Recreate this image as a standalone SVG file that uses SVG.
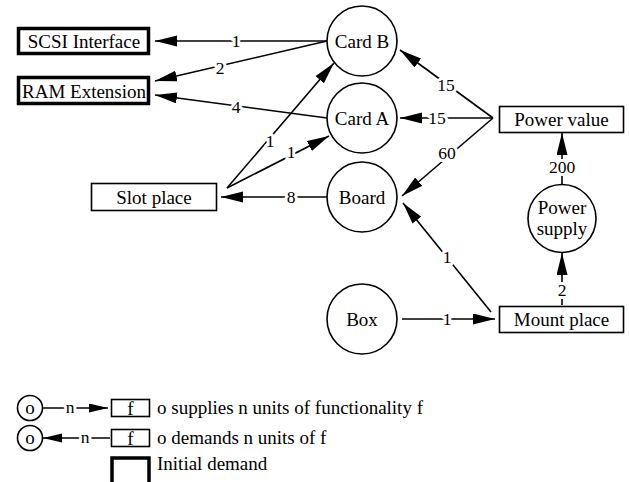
<svg xmlns="http://www.w3.org/2000/svg" width="629" height="482" viewBox="0 0 629 482" font-family="'Liberation Serif', 'DejaVu Serif', 'Times New Roman', serif">
  <style>
    .node { font-size: 19px; text-anchor: middle; }
    .lbl { font-size: 17.5px; text-anchor: middle; stroke: #fff; stroke-width: 6px; paint-order: stroke; stroke-linejoin: round; }
    .leg { font-size: 19px; }
    .circ { fill: #fff; stroke: #000; stroke-width: 1.6; }
    .box { fill: #fff; stroke: #000; stroke-width: 1.6; }
    .init { fill: #fff; stroke: #000; stroke-width: 3.5; }
    .edge { fill: none; stroke: #000; stroke-width: 1.6; }
  </style>
  <defs>
    <marker id="arrow" markerUnits="userSpaceOnUse" markerWidth="23" markerHeight="12" refX="22" refY="5.5" orient="auto">
      <path d="M0,0 L22,5.5 L0,11 z" fill="#000"/>
    </marker>
    <marker id="arrow-sm" markerUnits="userSpaceOnUse" markerWidth="20" markerHeight="10" refX="19" refY="4.5" orient="auto">
      <path d="M0,0 L19,4.5 L0,9 z" fill="#000"/>
    </marker>
  </defs>

  <rect width="629" height="482" fill="#fff"/>

  <!-- connectors -->
  <g id="connectors">
    <line class="edge" x1="327" y1="41" x2="155" y2="41" marker-end="url(#arrow)"/>
    <line class="edge" x1="327" y1="41" x2="155" y2="81" marker-end="url(#arrow)"/>
    <line class="edge" x1="327" y1="118" x2="155" y2="95" marker-end="url(#arrow)"/>
    <line class="edge" x1="227" y1="188" x2="334" y2="63" marker-end="url(#arrow)"/>
    <line class="edge" x1="227" y1="188" x2="329" y2="136" marker-end="url(#arrow)"/>
    <line class="edge" x1="327" y1="197" x2="221" y2="197" marker-end="url(#arrow)"/>
    <line class="edge" x1="493" y1="118" x2="400" y2="50" marker-end="url(#arrow)"/>
    <line class="edge" x1="493" y1="118" x2="400" y2="118" marker-end="url(#arrow)"/>
    <line class="edge" x1="493" y1="118" x2="402" y2="196" marker-end="url(#arrow)"/>
    <line class="edge" x1="491" y1="312" x2="403" y2="203" marker-end="url(#arrow)"/>
    <line class="edge" x1="402" y1="319" x2="495" y2="319" marker-end="url(#arrow)"/>
    <line class="edge" x1="562" y1="185" x2="562" y2="133" marker-end="url(#arrow)"/>
    <line class="edge" x1="562" y1="305" x2="562" y2="253" marker-end="url(#arrow)"/>

    <text class="lbl" x="236" y="47">1</text>
    <text class="lbl" x="220" y="74">2</text>
    <text class="lbl" x="236" y="113">4</text>
    <text class="lbl" x="270" y="147">1</text>
    <text class="lbl" x="291" y="158">1</text>
    <text class="lbl" x="291" y="203">8</text>
    <text class="lbl" x="446" y="91">15</text>
    <text class="lbl" x="437" y="124">15</text>
    <text class="lbl" x="447" y="159">60</text>
    <text class="lbl" x="447" y="263">1</text>
    <text class="lbl" x="447" y="325">1</text>
    <text class="lbl" x="562" y="173">200</text>
    <text class="lbl" x="562" y="296">2</text>
  </g>

  <!-- nodes -->
  <g id="scsi-interface">
    <rect class="init" x="18.5" y="28.5" width="130" height="25"/>
    <text class="node" x="84" y="47.5">SCSI Interface</text>
  </g>
  <g id="ram-extension">
    <rect class="init" x="18.5" y="77.5" width="130" height="26"/>
    <text class="node" x="84" y="97.5">RAM Extension</text>
  </g>
  <g id="slot-place">
    <rect class="box" x="91.5" y="183.5" width="125" height="27"/>
    <text class="node" x="154" y="203.5">Slot place</text>
  </g>
  <g id="card-b">
    <circle class="circ" cx="362" cy="41" r="35"/>
    <text class="node" x="362" y="47.5">Card B</text>
  </g>
  <g id="card-a">
    <circle class="circ" cx="362" cy="118" r="35"/>
    <text class="node" x="362" y="124.5">Card A</text>
  </g>
  <g id="board">
    <circle class="circ" cx="362" cy="197" r="35"/>
    <text class="node" x="362" y="203.5">Board</text>
  </g>
  <g id="box">
    <circle class="circ" cx="362" cy="319" r="35"/>
    <text class="node" x="362" y="325.5">Box</text>
  </g>
  <g id="power-value">
    <rect class="box" x="499.5" y="106.5" width="124" height="26"/>
    <text class="node" x="561.5" y="125.5">Power value</text>
  </g>
  <g id="power-supply">
    <circle class="circ" cx="562" cy="218.5" r="34"/>
    <text class="node" x="562" y="214">Power</text>
    <text class="node" x="562" y="234.5">supply</text>
  </g>
  <g id="mount-place">
    <rect class="box" x="499.5" y="306.5" width="124" height="26"/>
    <text class="node" x="561.5" y="325.5">Mount place</text>
  </g>

  <!-- legend -->
  <g id="legend-supply">
    <line class="edge" x1="43" y1="408" x2="108" y2="408" marker-end="url(#arrow-sm)"/>
    <text class="lbl" x="70" y="413">n</text>
    <circle class="circ" cx="30" cy="408" r="12.5"/>
    <text class="node" x="30" y="414">o</text>
    <rect class="box" x="111.5" y="399.5" width="38" height="17"/>
    <text class="node" x="130.5" y="414.5">f</text>
    <text class="leg" x="157" y="414">o supplies n units of functionality f</text>
  </g>
  <g id="legend-demand">
    <line class="edge" x1="110" y1="438" x2="43" y2="438" marker-end="url(#arrow-sm)"/>
    <text class="lbl" x="85" y="443">n</text>
    <circle class="circ" cx="30" cy="438" r="12.5"/>
    <text class="node" x="30" y="444">o</text>
    <rect class="box" x="111.5" y="429.5" width="38" height="17"/>
    <text class="node" x="130.5" y="444.5">f</text>
    <text class="leg" x="157" y="444">o demands n units of f</text>
  </g>
  <g id="legend-initial">
    <rect class="init" x="112" y="458" width="37" height="40"/>
    <text class="leg" x="157" y="470">Initial demand</text>
  </g>
</svg>
